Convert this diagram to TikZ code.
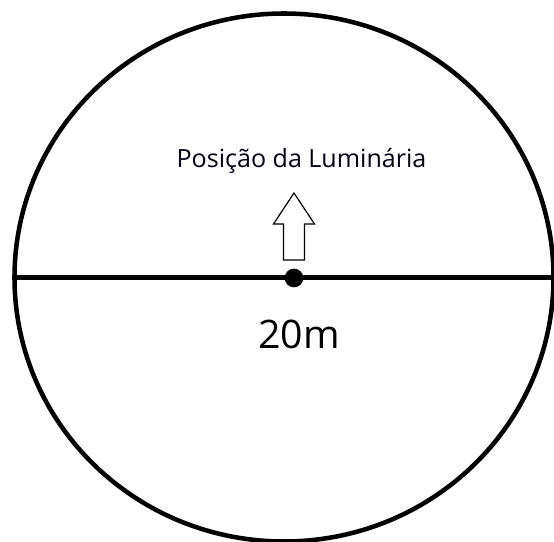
\documentclass[tikz,border=0pt]{standalone}
\usepackage{fontspec}
\setmainfont{Open Sans}
\begin{document}
\begin{tikzpicture}[x=0.75pt,y=-0.75pt,
  thick line/.style={line width=3.4pt,black},
  arrowshape/.style={draw=black,line width=0.9pt,fill=white,line join=miter},
  labeltext/.style={inner sep=0pt,text=black!92!blue}]
\useasboundingbox (0,0) rectangle (554,542);
\begin{scope}
\clip (0,0) rectangle (554,542);
\draw[thick line] (284,277.5) ellipse [x radius=269.5, y radius=264];
\coordinate (L) at (14.5,277.5);
\coordinate (R) at (556,277.5);
\draw[thick line] (L) -- (R);
\end{scope}
\node[circle,fill=black,inner sep=0pt,minimum size=14pt] (dot) at (294,278) {};
\draw[arrowshape] (294,193) -- (314.5,224) -- (304.5,224) -- (304.5,260) -- (283.5,260) -- (283.5,224) -- (273.5,224) -- cycle;
\node[labeltext,font=\fontsize{18.8pt}{22pt}\selectfont,anchor=base] (lum) at (301.5,167) {Posição da Luminária};
\node[inner sep=0pt,font=\fontsize{29.5pt}{34pt}\selectfont,anchor=base] (len) at (299,348) {20m};
\end{tikzpicture}
\end{document}
